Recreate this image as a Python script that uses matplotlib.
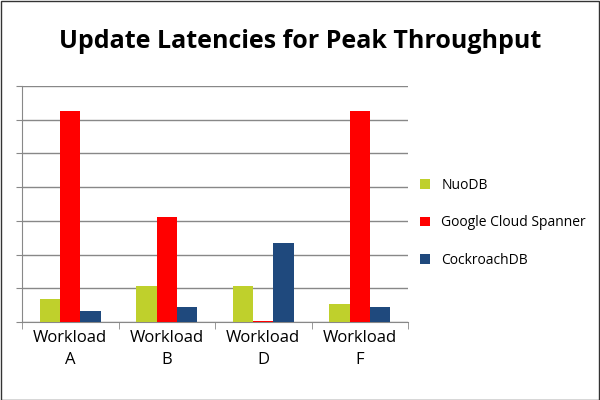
import matplotlib.pyplot as plt
import numpy as np

workloads = ["Workload\nA", "Workload\nB", "Workload\nD", "Workload\nF"]
series = ["NuoDB", "Google Cloud Spanner", "CockroachDB"]
nuodb = [0.68, 1.06, 1.06, 0.53]
spanner = [6.25, 3.12, 0.03, 6.25]
cockroach = [0.33, 0.45, 2.33, 0.45]
colors = ["#bfd02c", "#ff0000", "#1f497d"]

fig = plt.figure(figsize=(6, 4), dpi=100)
ax = fig.add_axes([22 / 600, 1 - 322 / 400, 386 / 600, 236 / 400])

x = np.arange(len(workloads))
w = 0.21
for i, (vals, name) in enumerate(zip([nuodb, spanner, cockroach], series)):
    ax.bar(x + (i - 1) * w, vals, w, color=colors[i], label=name, zorder=3)

ax.set_xlim(-0.5, 3.5)
ax.set_ylim(0, 7)
ax.set_yticks(range(8))
ax.set_yticklabels([])
ax.yaxis.grid(True, color="#888888", linewidth=1, zorder=0)
ax.tick_params(axis="y", length=4, color="#888888")
ax.set_xticks(x)
ax.set_xticklabels(workloads, fontsize=12, family="Open Sans", linespacing=1.5)
ax.tick_params(axis="x", length=0, pad=6)
ax.set_xticks(np.arange(-0.5, 4, 1), minor=True)
ax.tick_params(axis="x", which="minor", length=5, color="#888888")
for s in ["top", "right"]:
    ax.spines[s].set_visible(False)
for s in ["left", "bottom"]:
    ax.spines[s].set_color("#888888")

fig.text(0.5, 1 - 42 / 400, "Update Latencies for Peak Throughput", ha="center",
         va="center", fontsize=18, fontweight="bold", family="Open Sans")

ax.legend(loc="center left", bbox_to_anchor=(1.0, 0.42), frameon=False,
          prop={"family": "Open Sans", "size": 10},
          handlelength=0.7, handleheight=0.7, labelspacing=1.6)

fig.patches.append(plt.Rectangle((0.001, 0.001), 0.997, 0.997, transform=fig.transFigure,
                                 fill=False, edgecolor="#333333", linewidth=1))

fig.savefig("out.png")
